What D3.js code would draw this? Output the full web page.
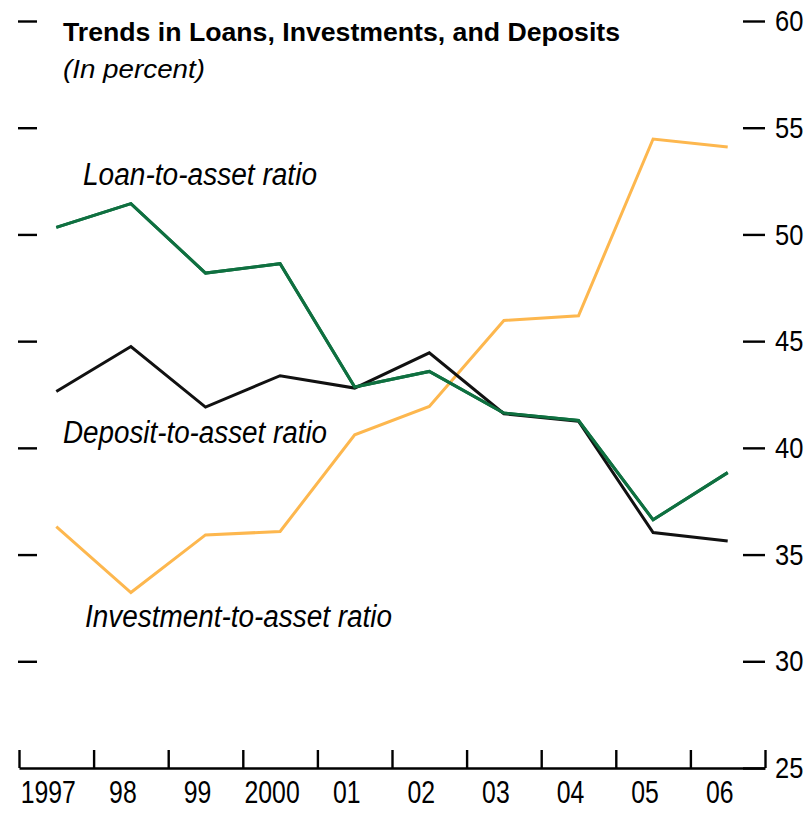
<!DOCTYPE html>
<html>
<head>
<meta charset="utf-8">
<script src="https://cdn.jsdelivr.net/npm/d3@7"></script>
<style>
  html, body { margin: 0; padding: 0; background: #fff; }
  svg { display: block; }
  text { font-family: "Liberation Sans", Arial, sans-serif; fill: #000; }
</style>
</head>
<body>
<svg id="chart" width="811" height="819"></svg>
<script>
const years = ["1997", "98", "99", "2000", "01", "02", "03", "04", "05", "06"];
const loanToAsset       = [50.33, 51.44, 48.19, 48.63, 42.85, 43.58, 41.63, 41.28, 36.63, 38.84];
const depositToAsset    = [42.64, 44.75, 41.91, 43.38, 42.80, 44.45, 41.60, 41.25, 36.03, 35.64];
const investmentToAsset = [36.31, 33.22, 35.92, 36.08, 40.61, 41.94, 45.97, 46.19, 54.47, 54.10];
const rightTicks = [25, 30, 35, 40, 45, 50, 55, 60];
const leftTicks  = [30, 35, 40, 45, 50, 55, 60];
const titleText = "Trends in Loans, Investments, and Deposits";
const subtitleText = "(In percent)";
const seriesLabels = ["Loan-to-asset ratio", "Deposit-to-asset ratio", "Investment-to-asset ratio"];

const svg = d3.select("#chart");
const x = d3.scaleBand().domain(years).range([19, 765]).padding(0);
const xi = d3.scaleLinear().domain([0, years.length]).range([19, 765]);
const y = d3.scaleLinear().domain([25, 60]).range([768, 21]);
const cx = d => x(d) + x.bandwidth() / 2;

// X axis: baseline with upward ticks at band boundaries
const xAxis = svg.append("g").attr("transform", "translate(0,768)")
  .call(d3.axisBottom(xi).tickValues(d3.range(0, years.length + 1)).tickSizeInner(-18).tickSizeOuter(0).tickFormat(""));
xAxis.select(".domain").attr("stroke", "#000").attr("stroke-width", 2.6);
xAxis.selectAll(".tick line").attr("stroke", "#000").attr("stroke-width", 2.4);

// X labels
const xl = svg.append("g").selectAll("text").data(years).join("text")
  .attr("x", d => cx(d) - 8)
  .attr("y", 803)
  .attr("text-anchor", "middle")
  .attr("font-size", 31)
  .text(d => d);
xl.each(function() { const w = this.getComputedTextLength(); this.setAttribute("textLength", w * 0.8); this.setAttribute("lengthAdjust", "spacingAndGlyphs"); });

// Left axis: ticks only
const yl = svg.append("g").attr("transform", "translate(18,0)")
  .call(d3.axisLeft(y).tickValues(leftTicks).tickSize(-19).tickFormat(""));
yl.select(".domain").remove();
yl.selectAll(".tick line").attr("stroke", "#000").attr("stroke-width", 2.4);

// Right axis
const yr = svg.append("g").attr("transform", "translate(743,0)")
  .call(d3.axisRight(y).tickValues(rightTicks).tickSize(22).tickPadding(10));
yr.select(".domain").remove();
yr.selectAll(".tick line").attr("stroke", "#000").attr("stroke-width", 2.4);
yr.selectAll(".tick text").attr("font-size", 30).attr("fill", "#000")
  .attr("font-family", "'Liberation Sans', Arial, sans-serif")
  .each(function() { const w = this.getComputedTextLength(); this.setAttribute("textLength", w * 0.85); this.setAttribute("lengthAdjust", "spacingAndGlyphs"); });

// Lines
const line = d3.line().x((v, i) => cx(years[i])).y(v => y(v));
const series = [
  { values: investmentToAsset, color: "#FDB74E" },
  { values: loanToAsset, color: "#0F7040" },
  { values: depositToAsset, color: "#111111" }
];
svg.append("g").selectAll("path").data(series).join("path")
  .attr("d", d => line(d.values))
  .attr("fill", "none")
  .attr("stroke", d => d.color)
  .attr("stroke-width", 3)
  .attr("stroke-linejoin", "miter");
// redraw green on top of black partially (green appears over black in overlap)
svg.append("path").attr("d", line(loanToAsset)).attr("fill", "none").attr("stroke", "#0F7040").attr("stroke-width", 3);

// Title
svg.append("text").attr("x", 63).attr("y", 41).attr("font-size", 26.5).attr("font-weight", "bold")
  .attr("textLength", 557).attr("lengthAdjust", "spacingAndGlyphs").text(titleText);
svg.append("text").attr("x", 63).attr("y", 78).attr("font-size", 26).attr("font-style", "italic")
  .attr("textLength", 142).attr("lengthAdjust", "spacingAndGlyphs").text(subtitleText);

// Series labels
const labelPos = [
  { x: 83, y: 185, w: 234 },
  { x: 63, y: 443, w: 264 },
  { x: 85, y: 627, w: 307 }
];
svg.append("g").selectAll("text").data(seriesLabels).join("text")
  .attr("x", (d, i) => labelPos[i].x)
  .attr("y", (d, i) => labelPos[i].y)
  .attr("font-size", 31)
  .attr("font-style", "italic")
  .attr("textLength", (d, i) => labelPos[i].w)
  .attr("lengthAdjust", "spacingAndGlyphs")
  .text(d => d);
</script>
</body>
</html>
